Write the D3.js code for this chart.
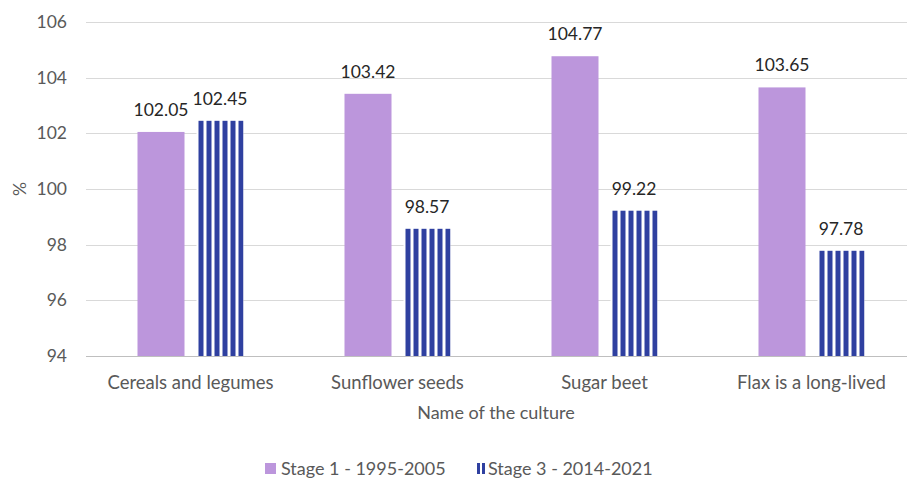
<!DOCTYPE html>
<html>
<head>
<meta charset="utf-8">
<script src="https://cdn.jsdelivr.net/npm/d3@7"></script>
<style>
  html, body { margin: 0; padding: 0; background: #fff; overflow: hidden; }
  svg { display: block; }
  text { font-family: Lato, "Open Sans", sans-serif; }
</style>
</head>
<body>
<svg id="chart" width="907" height="480"></svg>
<script>
// Crop yield index by stage
const categories = ["Cereals and legumes", "Sunflower seeds", "Sugar beet", "Flax is a long-lived"];
const stage1 = [102.05, 103.42, 104.77, 103.65];
const stage3 = [102.45, 98.57, 99.22, 97.78];
const seriesNames = ["Stage 1 - 1995-2005", "Stage 3 - 2014-2021"];
const yTicks = [94, 96, 98, 100, 102, 104, 106];

const svg = d3.select("#chart");

const x0 = d3.scaleBand()
  .domain(categories)
  .range([87, 915])
  .paddingInner(0).paddingOuter(0);

const y = d3.scaleLinear().domain([94, 106]).range([356, 22]);

// stripe pattern for the second series
const defs = svg.append("defs");
const pat = defs.append("pattern")
  .attr("id", "stripes")
  .attr("patternUnits", "userSpaceOnUse")
  .attr("width", 8).attr("height", 8);
pat.append("rect").attr("width", 8).attr("height", 8).attr("fill", "#fff");
pat.append("rect").attr("x", 0).attr("width", 5).attr("height", 8).attr("fill", "#2f40a0");

// gridlines
svg.append("g")
  .selectAll("line")
  .data(yTicks)
  .join("line")
  .attr("x1", 86).attr("x2", 907)
  .attr("y1", d => Math.round(y(d)) + 0.5).attr("y2", d => Math.round(y(d)) + 0.5)
  .attr("stroke", "#d9d9d9").attr("stroke-width", 1);

// y tick labels
svg.append("g")
  .selectAll("text")
  .data(yTicks)
  .join("text")
  .attr("x", 67).attr("y", d => y(d))
  .attr("dy", "0.35em")
  .attr("text-anchor", "end")
  .attr("font-size", 17.5)
  .attr("fill", "#595959")
  .text(d => d);

const barW = 47, gap = 12;
const groups = svg.append("g")
  .selectAll("g")
  .data(categories)
  .join("g")
  .attr("transform", d => `translate(${x0(d) + x0.bandwidth() / 2},0)`);

// Stage 1 bars
groups.append("rect")
  .attr("x", -barW - gap / 2)
  .attr("width", barW)
  .attr("y", (d, i) => y(stage1[i]))
  .attr("height", (d, i) => y(94) - y(stage1[i]))
  .attr("fill", "#bc96dc");

// Stage 3 bars
groups.append("rect")
  .attr("x", gap / 2)
  .attr("width", barW)
  .attr("y", (d, i) => y(stage3[i]))
  .attr("height", (d, i) => y(94) - y(stage3[i]))
  .attr("fill", "url(#stripes)");

// value labels
groups.append("text")
  .attr("x", -barW / 2 - gap / 2)
  .attr("y", (d, i) => y(stage1[i]) - 16)
  .attr("text-anchor", "middle")
  .attr("font-size", 17.5)
  .attr("fill", "#262626")
  .text((d, i) => stage1[i].toFixed(2));
groups.append("text")
  .attr("x", barW / 2 + gap / 2)
  .attr("y", (d, i) => y(stage3[i]) - 16)
  .attr("text-anchor", "middle")
  .attr("font-size", 17.5)
  .attr("fill", "#262626")
  .text((d, i) => stage3[i].toFixed(2));

// bottom axis line
svg.append("line")
  .attr("x1", 86).attr("x2", 907)
  .attr("y1", Math.round(y(94)) + 0.5).attr("y2", Math.round(y(94)) + 0.5)
  .attr("stroke", "#bfbfbf").attr("stroke-width", 1);

// category labels
svg.append("g")
  .selectAll("text")
  .data(categories)
  .join("text")
  .attr("x", d => x0(d) + x0.bandwidth() / 2)
  .attr("y", 389)
  .attr("text-anchor", "middle")
  .attr("font-size", 18.5)
  .attr("fill", "#595959")
  .text(d => d);

// axis titles
svg.append("text")
  .attr("x", 496).attr("y", 419)
  .attr("text-anchor", "middle")
  .attr("font-size", 18)
  .attr("fill", "#595959")
  .text("Name of the culture");

svg.append("text")
  .attr("transform", "translate(20,189) rotate(-90)")
  .attr("text-anchor", "middle")
  .attr("dy", "0.35em")
  .attr("font-size", 17.5)
  .attr("fill", "#595959")
  .text("%");

// legend
const legend = svg.append("g");
legend.append("rect").attr("x", 265).attr("y", 463).attr("width", 11).attr("height", 11).attr("fill", "#bc96dc");
legend.append("text").attr("x", 281).attr("y", 475).attr("font-size", 18).attr("fill", "#595959").text(seriesNames[0]);
const lpat = defs.append("pattern")
  .attr("id", "stripesLegend")
  .attr("patternUnits", "userSpaceOnUse")
  .attr("x", 477)
  .attr("width", 5).attr("height", 5);
lpat.append("rect").attr("width", 5).attr("height", 5).attr("fill", "#fff");
lpat.append("rect").attr("width", 3).attr("height", 5).attr("fill", "#2f40a0");
legend.append("rect").attr("x", 477).attr("y", 463).attr("width", 8).attr("height", 11).attr("fill", "url(#stripesLegend)");
legend.append("text").attr("x", 488).attr("y", 475).attr("font-size", 18).attr("fill", "#595959").text(seriesNames[1]);
</script>
</body>
</html>
